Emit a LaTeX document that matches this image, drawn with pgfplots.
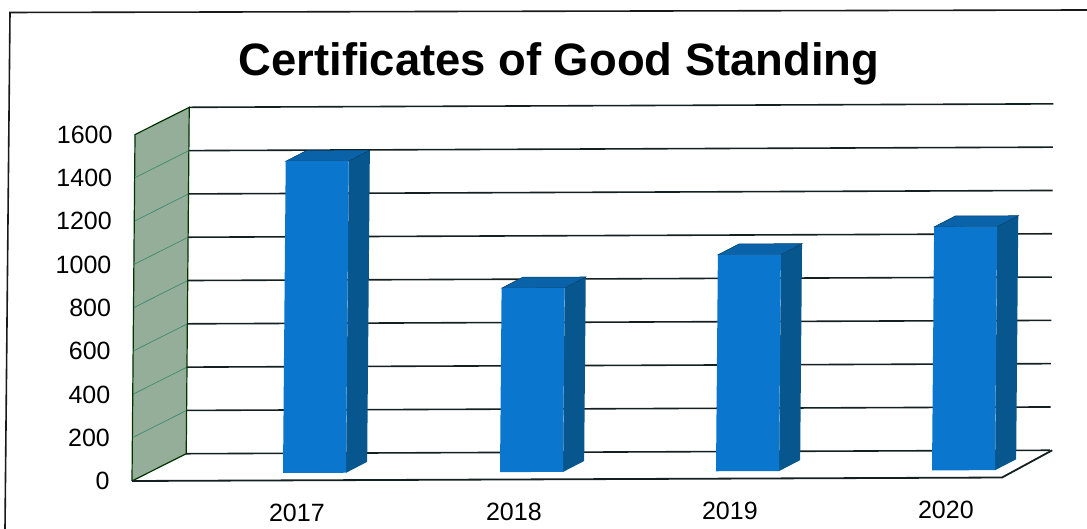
\documentclass[border=0pt]{standalone}
\usepackage{fontspec}
\setmainfont{Liberation Sans}
\usepackage{pgfplots}
\pgfplotsset{compat=1.18}
\definecolor{front}{HTML}{0A76CE}
\definecolor{side}{HTML}{07568E}
\definecolor{topc}{HTML}{0A62A8}
\definecolor{wall}{HTML}{94AE99}
\definecolor{wallline}{HTML}{3F8A70}
\definecolor{gridc}{HTML}{14201F}
\begin{document}
\begin{tikzpicture}
\path[use as bounding box] (0,0) rectangle (1087pt,529pt);
% hand drawn frame, no right or bottom edge in the scan
\draw[line width=1.6pt,black!90] (5pt,0pt) -- (10pt,516.5pt) -- (1087pt,519pt);
\begin{axis}[
    at={(132pt,48pt)}, anchor=origin,
    x={(1pt,0.004pt)}, y={(0.00188pt,0.2165pt)},
    xmin=132, xmax=1052, ymin=0, ymax=1725,
    clip=false,
    axis line style={draw=none},
    tick style={draw=none},
    ytick={0,200,...,1600},
    xtick={297,514,730,946},
    xticklabels={2017,2018,2019,2020},
    tick label style={font=\fontsize{25}{25}\selectfont},
    yticklabel style={xshift=-19pt},
    xticklabel style={yshift=-20pt},
    /pgf/number format/1000 sep={},
    /pgf/number format/assume math mode=true,
]
% side wall
\addplot[fill=wall,draw=none] coordinates {(132,0)(186,125)(186,1725)(132,1600)} --cycle;
\pgfplotsinvokeforeach{200,400,600,800,1000,1200,1400}{
  \addplot[wallline,line width=0.7pt] coordinates {(132,#1)(186,#1+125)};
}
\addplot[black!60!green!50!black,line width=1.2pt] coordinates {(132,0)(132,1600)(186,1725)(186,125)(132,0)};
% back wall grid lines
\pgfplotsinvokeforeach{125,325,525,725,925,1125,1325,1525,1725}{
  \addplot[gridc,line width=1.6pt] coordinates {(186,#1)(1050,#1)};
}
% floor edge
\addplot[gridc,line width=1.8pt] coordinates {(132,0)(1002,0)(1052,125)};
% bar sides and tops
\addplot[fill=side,draw=none] coordinates {(346,34)(367,84)(367,1524)(346,1474)} --cycle;
\addplot[fill=topc,draw=side!70!black,line width=0.5pt] coordinates {(283,1474)(304,1524)(367,1524)(346,1474)} --cycle;
\addplot[fill=side,draw=none] coordinates {(563,34)(584,84)(584,934)(563,884)} --cycle;
\addplot[fill=topc,draw=side!70!black,line width=0.5pt] coordinates {(500,884)(521,934)(584,934)(563,884)} --cycle;
\addplot[fill=side,draw=none] coordinates {(779,34)(800,84)(800,1084)(779,1034)} --cycle;
\addplot[fill=topc,draw=side!70!black,line width=0.5pt] coordinates {(716,1034)(737,1084)(800,1084)(779,1034)} --cycle;
\addplot[fill=side,draw=none] coordinates {(995,34)(1016,84)(1016,1209)(995,1159)} --cycle;
\addplot[fill=topc,draw=side!70!black,line width=0.5pt] coordinates {(932,1159)(953,1209)(1016,1209)(995,1159)} --cycle;
% bar fronts, value is the height; they stand a bit in from the floor edge
\addplot[fill=front,draw=none,yshift=7.4pt] coordinates {(283,0)(283,1440)(346,1440)(346,0)} --cycle;
\addplot[fill=front,draw=none,yshift=7.4pt] coordinates {(500,0)(500,850)(563,850)(563,0)} --cycle;
\addplot[fill=front,draw=none,yshift=7.4pt] coordinates {(716,0)(716,1000)(779,1000)(779,0)} --cycle;
\addplot[fill=front,draw=none,yshift=7.4pt] coordinates {(932,0)(932,1125)(995,1125)(995,0)} --cycle;
\end{axis}
\node[font=\bfseries\fontsize{45.4}{47}\selectfont,anchor=base] at (559pt,453pt) {Certificates of Good Standing};
\end{tikzpicture}
\end{document}
